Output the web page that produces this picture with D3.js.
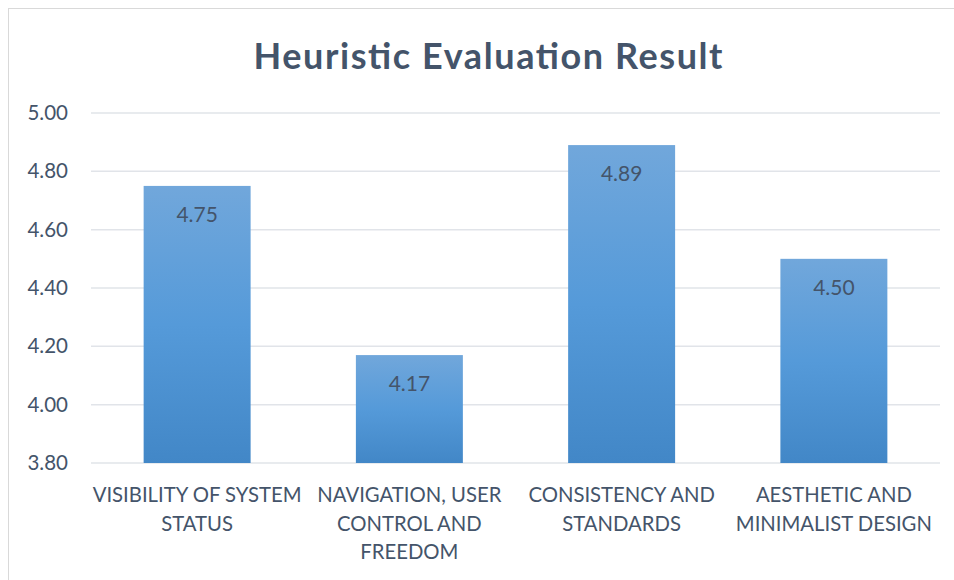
<!DOCTYPE html>
<html>
<head>
<meta charset="utf-8">
<script src="https://cdn.jsdelivr.net/npm/d3@7"></script>
<style>
body { margin:0; background:#fff; }
svg { display:block; font-family: Lato, "Open Sans", sans-serif; }
</style>
</head>
<body>
<svg id="chart"></svg>
<script>
var categories = [
    ["VISIBILITY OF SYSTEM", "STATUS"],
    ["NAVIGATION, USER", "CONTROL AND", "FREEDOM"],
    ["CONSISTENCY AND", "STANDARDS"],
    ["AESTHETIC AND", "MINIMALIST DESIGN"]
]
var values = [4.75, 4.17, 4.89, 4.50]
var tickValues = [3.80, 4.00, 4.20, 4.40, 4.60, 4.80, 5.00]

var width = 954
var height = 580
var textColor = "#44546a"

var svg = d3.select("#chart")
    .attr("width", width)
    .attr("height", height)

// outer chart border
svg.append("rect")
    .attr("x", 8.5).attr("y", 8.5)
    .attr("width", width + 10).attr("height", height + 10)
    .attr("fill", "none")
    .attr("stroke", "#d9d9d9")

var defs = svg.append("defs")
var grad = defs.append("linearGradient")
    .attr("id", "barGrad")
    .attr("x1", 0).attr("y1", 0).attr("x2", 0).attr("y2", 1)
grad.append("stop").attr("offset", "0%").attr("stop-color", "#71a7db")
grad.append("stop").attr("offset", "50%").attr("stop-color", "#559ad9")
grad.append("stop").attr("offset", "100%").attr("stop-color", "#4287c7")

var plotLeft = 91, plotRight = 940
var yScale = d3.scaleLinear()
    .domain([3.8, 5.0])
    .range([463, 113])

var xScale = d3.scaleBand()
    .domain(d3.range(values.length))
    .range([plotLeft, plotRight])
    .paddingInner(0.496)
    .paddingOuter(0.248)

// title
svg.append("text")
    .attr("x", 488).attr("y", 69)
    .attr("text-anchor", "middle")
    .attr("font-size", 36)
    .attr("font-weight", "bold")
    .attr("fill", textColor)
    .attr("textLength", 469)
    .attr("lengthAdjust", "spacing")
    .text("Heuristic Evaluation Result")

// gridlines
svg.append("g").selectAll("line")
    .data(tickValues)
    .enter()
    .append("line")
    .attr("x1", plotLeft).attr("x2", plotRight)
    .attr("y1", function(d){ return yScale(d) })
    .attr("y2", function(d){ return yScale(d) })
    .attr("stroke", "#e1e4e9")
    .attr("stroke-width", 1.5)

// y axis labels
var yAxis = d3.axisLeft(yScale)
    .tickValues(tickValues)
    .tickFormat(d3.format(".2f"))
    .tickSize(0)
    .tickPadding(0)
var yg = svg.append("g")
    .attr("transform", "translate(68,0)")
    .call(yAxis)
yg.select(".domain").remove()
yg.selectAll("text")
    .attr("font-size", 20.5)
    .attr("font-family", "Lato, 'Open Sans', sans-serif")
    .attr("fill", textColor)

// bars
svg.append("g").selectAll("rect")
    .data(values)
    .enter()
    .append("rect")
    .attr("x", function(d, i){ return xScale(i) })
    .attr("y", function(d){ return yScale(d) })
    .attr("width", xScale.bandwidth())
    .attr("height", function(d){ return yScale(3.8) - yScale(d) })
    .attr("fill", "url(#barGrad)")

// data labels
svg.append("g").selectAll("text")
    .data(values)
    .enter()
    .append("text")
    .attr("x", function(d, i){ return xScale(i) + xScale.bandwidth() / 2 })
    .attr("y", function(d){ return yScale(d) + 36 })
    .attr("text-anchor", "middle")
    .attr("font-size", 21)
    .attr("fill", textColor)
    .text(function(d){ return d3.format(".2f")(d) })

// category labels
var catG = svg.append("g").selectAll("text")
    .data(categories)
    .enter()
    .append("text")
    .attr("text-anchor", "middle")
    .attr("font-size", 20.3)
    .attr("fill", textColor)
catG.each(function(lines, i){
    var cx = xScale(i) + xScale.bandwidth() / 2
    d3.select(this).selectAll("tspan")
        .data(lines)
        .enter()
        .append("tspan")
        .attr("x", cx)
        .attr("y", function(d, j){ return 502 + j * 28.5 })
        .text(function(d){ return d })
})
</script>
</body>
</html>
